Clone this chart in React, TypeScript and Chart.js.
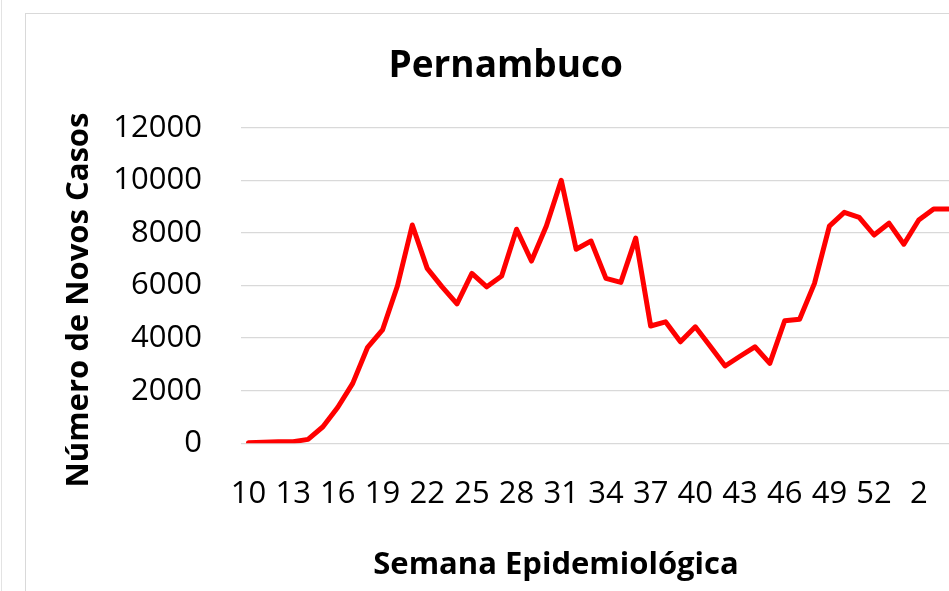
import React, { useEffect, useRef } from "react";
import { Chart, registerables } from "chart.js";

Chart.register(...registerables);

const weeks: string[] = [
  "10", "11", "12", "13", "14", "15", "16", "17", "18", "19",
  "20", "21", "22", "23", "24", "25", "26", "27", "28", "29",
  "30", "31", "32", "33", "34", "35", "36", "37", "38", "39",
  "40", "41", "42", "43", "44", "45", "46", "47", "48", "49",
  "50", "51", "52", "53", "1", "2", "3", "4",
];

const newCases: number[] = [
  20, 40, 60, 60, 150, 630, 1370, 2280, 3650, 4310,
  5980, 8300, 6650, 5950, 5300, 6460, 5950, 6360, 8140, 6930,
  8260, 10000, 7380, 7690, 6270, 6120, 7800, 4460, 4620, 3860,
  4430, 3690, 2940, 3310, 3670, 3040, 4660, 4720, 6080, 8260,
  8780, 8590, 7920, 8370, 7570, 8490, 8910, 8910,
];

const yTicks: number[] = [0, 2000, 4000, 6000, 8000, 10000, 12000];

const TITLE = "Pernambuco";
const X_TITLE = "Semana Epidemiológica";
const Y_TITLE = "Número de Novos Casos";

const FONT = '"Open Sans", "DejaVu Sans", sans-serif';

const axisTitles = {
  id: "axisTitles",
  afterDraw(chart: any) {
    const ctx = chart.ctx as CanvasRenderingContext2D;
    ctx.save();
    ctx.fillStyle = "#000000";
    ctx.font = `bold 31px ${FONT}`;
    ctx.textAlign = "center";
    ctx.textBaseline = "alphabetic";
    ctx.fillText(X_TITLE, 556, 574);
    ctx.translate(88, 300);
    ctx.rotate(-Math.PI / 2);
    ctx.fillText(Y_TITLE, 0, 0);
    ctx.restore();
  },
};

export default function App() {
  const ref = useRef<HTMLCanvasElement | null>(null);

  useEffect(() => {
    if (!ref.current) return;
    const chart = new Chart(ref.current, {
      type: "line",
      data: {
        labels: weeks,
        datasets: [
          {
            label: "Novos casos",
            data: newCases,
            borderColor: "#ff0000",
            backgroundColor: "#ff0000",
            borderWidth: 5,
            pointRadius: 0,
            tension: 0,
            borderJoinStyle: "round",
            borderCapStyle: "round",
          },
        ],
      },
      options: {
        responsive: false,
        animation: false,
        layout: { padding: { left: 55.4, right: 0, top: 0, bottom: 0 } },
        plugins: {
          legend: { display: false },
          tooltip: { enabled: false },
          title: {
            display: true,
            text: TITLE,
            color: "#000000",
            font: { family: FONT, size: 37, weight: "bold", lineHeight: 1.2 },
            padding: { top: 44, bottom: 39.3 },
          },
        },
        scales: {
          x: {
            offset: true,
            grid: { display: false, drawTicks: false },
            border: { display: false },
            ticks: {
              autoSkip: false,
              maxRotation: 0,
              minRotation: 0,
              padding: 32.6,
              color: "#000000",
              font: { family: FONT, size: 31 },
              callback: (_v: any, i: number) => (i % 3 === 0 ? weeks[i] : ""),
            },
            afterFit: (scale: any) => {
              scale.height = 147.7;
              scale.paddingLeft = 0;
              scale.paddingRight = 0;
            },
          },
          y: {
            min: 0,
            max: 12000,
            afterBuildTicks: (scale: any) => {
              scale.ticks = yTicks.map((v) => ({ value: v }));
            },
            grid: { color: "#d9d9d9", lineWidth: 1.3, drawTicks: false },
            border: { display: false },
            ticks: {
              padding: 39,
              color: "#000000",
              font: { family: FONT, size: 31 },
              callback: (v: any) => String(v),
            },
            afterFit: (scale: any) => {
              scale.width = 185.6;
            },
          },
        },
      },
      plugins: [axisTitles],
    });
    return () => chart.destroy();
  }, []);

  return (
    <div
      style={{
        position: "fixed",
        left: 0,
        top: 0,
        width: 949,
        height: 591,
        overflow: "hidden",
        background: "#ffffff",
      }}
    >
      <div
        style={{
          position: "absolute",
          left: 1,
          top: 0,
          width: 1,
          height: 591,
          background: "#e3e3e3",
        }}
      />
      <div
        style={{
          position: "absolute",
          left: 25,
          top: 13,
          width: 1200,
          height: 1200,
          borderLeft: "1.5px solid #d9d9d9",
          borderTop: "1.5px solid #d9d9d9",
        }}
      />
      <canvas
        ref={ref}
        width={956}
        height={591}
        style={{ position: "absolute", left: 0, top: 0 }}
      />
    </div>
  );
}
